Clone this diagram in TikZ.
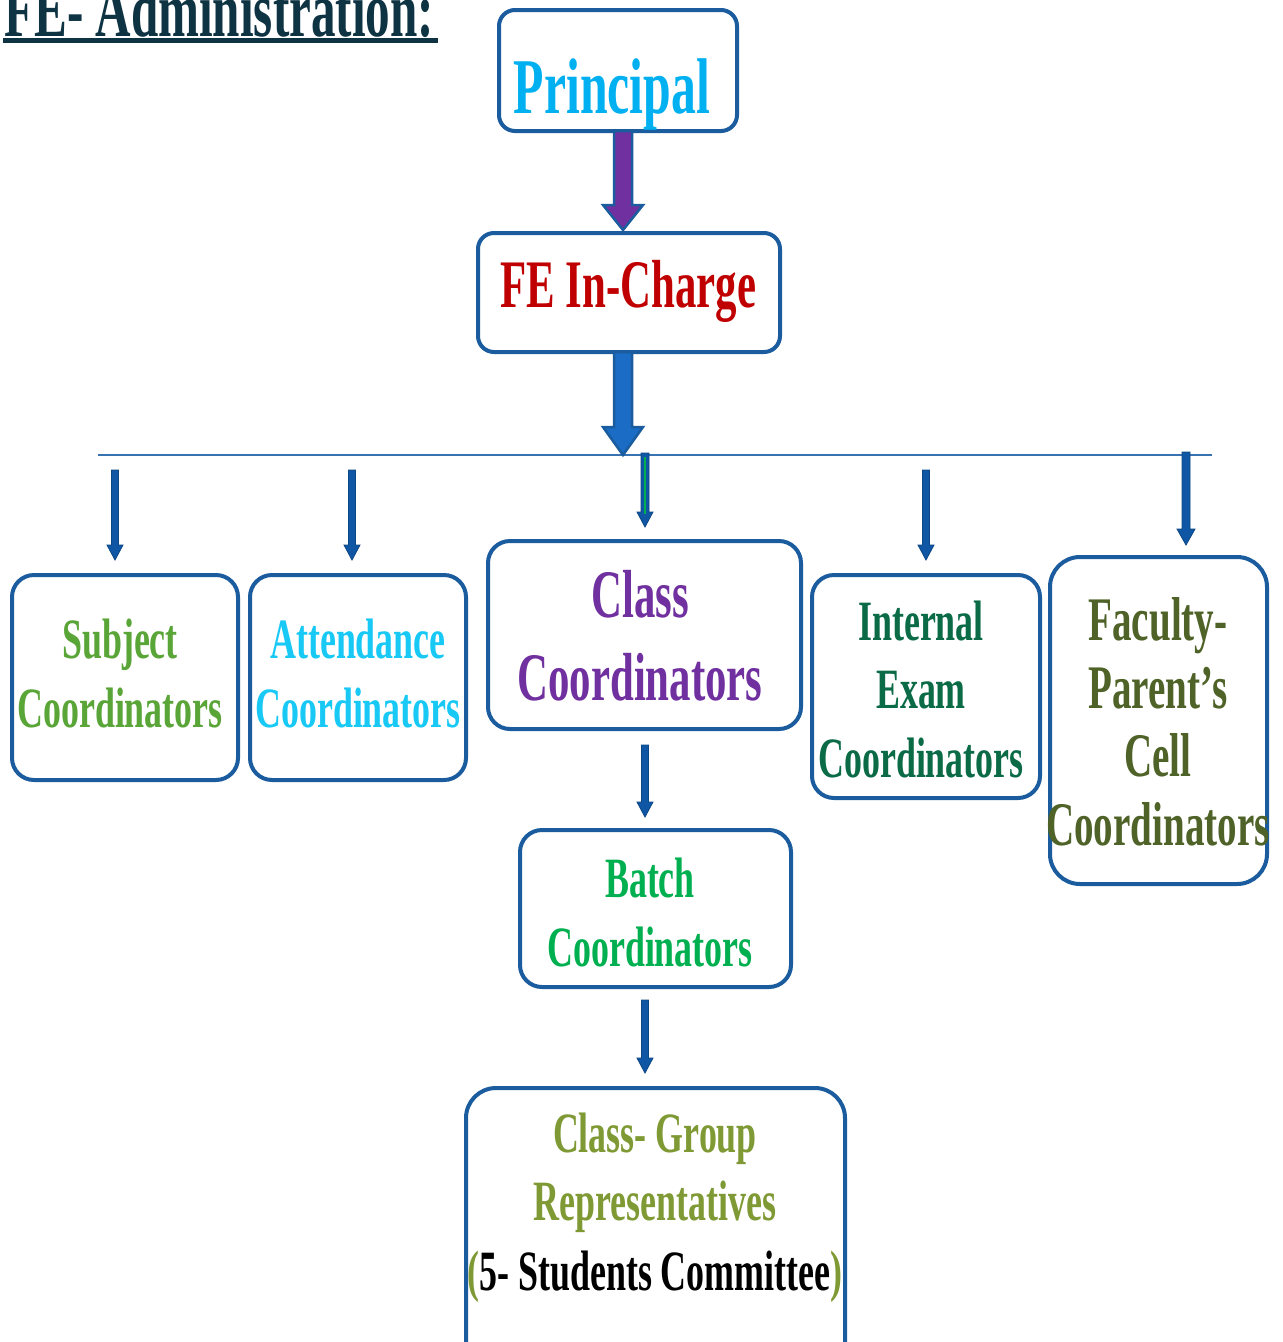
\documentclass[tikz,border=0pt]{standalone}
\usepackage{fontspec}
\newfontfamily\cf{Liberation Serif}[UprightFont=* Bold, FakeStretch=0.63]
\usetikzlibrary{calc}
\definecolor{boxblue}{HTML}{1B5C9E}
\definecolor{linblue}{HTML}{3872B0}
\definecolor{arrblue}{HTML}{0F57A5}
\definecolor{bigblue}{HTML}{1A6CC4}
\definecolor{arrpurple}{HTML}{7030A0}
\definecolor{titlecol}{HTML}{0E3343}
\definecolor{princol}{HTML}{00B0F0}
\definecolor{fecol}{HTML}{C00000}
\definecolor{subjcol}{HTML}{5AA537}
\definecolor{attcol}{HTML}{18C8F5}
\definecolor{clscol}{HTML}{7030A0}
\definecolor{intcol}{HTML}{0B6B47}
\definecolor{faccol}{HTML}{4F6228}
\definecolor{batchcol}{HTML}{00B050}
\definecolor{grpcol}{HTML}{7F9A34}
\definecolor{innergreen}{HTML}{00B050}
\newcommand\fsz[1]{\fontsize{#1}{#1}\selectfont}
% block arrow: start, tip, shaft half width, head half width, head length, style
\newcommand\blockarr[6]{%
  \path[#6] ($(#1)+(-#3,0)$) -- ($(#2)+(-#3,-#5)$) -- ($(#2)+(-#4,-#5)$) -- (#2)
    -- ($(#2)+(#4,-#5)$) -- ($(#2)+(#3,-#5)$) -- ($(#1)+(#3,0)$) -- cycle;}
\begin{document}
\begin{tikzpicture}[x=1pt,y=-1pt,
  box/.style={draw=boxblue, line width=4pt, rounded corners=22pt, fill=white},
  txt/.style={anchor=base, inner sep=0pt, font=\cf},
  smallarr/.style={fill=arrblue, draw=arrblue!80!black, line width=0.8pt},
  bigarr/.style={fill=bigblue, draw=boxblue, line width=2.5pt},
  purparr/.style={fill=arrpurple, draw=boxblue, line width=2.5pt}]
\useasboundingbox (0,0) rectangle (1283,1342);
\fill[white] (0,0) rectangle (1283,1342);

% title
\node[txt, anchor=base west, text=titlecol] (title) at (4,36) {\fsz{78}FE- Administration:};
\fill[titlecol] (3,38) rectangle (438,43);

% boxes
\draw[box, rounded corners=16pt] (499,10) rectangle (737,131);
\node[inner sep=0pt, minimum width=238pt, minimum height=121pt] (principal) at (618,70.5) {};
\draw[box, rounded corners=16pt] (478,233) rectangle (780,352);
\node[inner sep=0pt, minimum width=302pt, minimum height=119pt] (fe) at (629,292.5) {};
\draw[box] (12,575) rectangle (238,780);
\node[inner sep=0pt] (subj) at (125,677.5) {};
\draw[box] (250,575) rectangle (466,780);
\node[inner sep=0pt] (att) at (358,677.5) {};
\draw[box] (488,541) rectangle (801,729);
\node[inner sep=0pt] (cls) at (644.5,635) {};
\draw[box] (812,575) rectangle (1040,798);
\node[inner sep=0pt] (intl) at (926,686.5) {};
\draw[box, rounded corners=30pt] (1050,557) rectangle (1267,884);
\node[inner sep=0pt] (fac) at (1158.5,720.5) {};
\draw[box] (520,830) rectangle (791,987);
\node[inner sep=0pt] (batch) at (655.5,908.5) {};
\draw[box, rounded corners=30pt] (466,1088) rectangle (845,1380);
\node[inner sep=0pt] (grp) at (655.5,1234) {};

% texts
\node[txt, text=princol] (tprin) at (612,113) {\fsz{79}Principal};
\node[txt, text=fecol] (tfe) at (628.5,307) {\fsz{68}FE In-Charge};

\node[txt, text=subjcol] (ts1) at (120,658) {\fsz{57}Subject};
\node[txt, text=subjcol] (ts2) at (120,727) {\fsz{57}Coordinators};

\node[txt, text=attcol] (ta1) at (358,658) {\fsz{57}Attendance};
\node[txt, text=attcol] (ta2) at (358,727) {\fsz{57}Coordinators};

\node[txt, text=clscol] (tc1) at (640,617) {\fsz{68}Class};
\node[txt, text=clscol] (tc2) at (640,700) {\fsz{68}Coordinators};

\node[txt, text=intcol] (ti1) at (921,640) {\fsz{57}Internal};
\node[txt, text=intcol] (ti2) at (921,708) {\fsz{57}Exam};
\node[txt, text=intcol] (ti3) at (921,777) {\fsz{57}Coordinators};

\node[txt, text=faccol] (tf1) at (1158,640) {\fsz{62}Faculty-};
\node[txt, text=faccol] (tf2) at (1158,708) {\fsz{62}Parent’s};
\node[txt, text=faccol] (tf3) at (1158,776) {\fsz{62}Cell};
\node[txt, text=faccol] (tf4) at (1158,845) {\fsz{62}Coordinators};

\node[txt, text=batchcol] (tb1) at (650,897) {\fsz{57}Batch};
\node[txt, text=batchcol] (tb2) at (650,966) {\fsz{57}Coordinators};

\node[txt, text=grpcol] (tg1) at (655,1152) {\fsz{57}Class- Group};
\node[txt, text=grpcol] (tg2) at (655,1220) {\fsz{57}Representatives};
\node[txt, text=black] (tg3) at (655,1290) {\fsz{57}\textcolor{grpcol}{(}5- Students Committee\textcolor{grpcol}{)}};

% horizontal bus line
\coordinate (busl) at (98,455);
\coordinate (busr) at (1212,455);
\draw[linblue, line width=2.5pt] (busl) -- (busr);

% big arrows
\coordinate (a1s) at (principal.south -| 623,0);
\coordinate (a1e) at (623,230);
\blockarr{a1s}{a1e}{9}{20}{25}{purparr}
\coordinate (a2s) at (fe.south -| 623,0);
\coordinate (a2e) at (623,455);
\blockarr{a2s}{a2e}{9}{20}{28}{bigarr}

% small arrows
\coordinate (s1s) at (115,470); \coordinate (s1e) at (115,560);
\blockarr{s1s}{s1e}{3.5}{8}{15}{smallarr}
\coordinate (s2s) at (352,470); \coordinate (s2e) at (352,560);
\blockarr{s2s}{s2e}{3.5}{8}{15}{smallarr}
\coordinate (s3s) at (645,453); \coordinate (s3e) at (645,527);
\blockarr{s3s}{s3e}{4}{8}{15}{smallarr}
\draw[innergreen, line width=2pt] (645,457) -- (645,514);
\coordinate (s4s) at (926,470); \coordinate (s4e) at (926,560);
\blockarr{s4s}{s4e}{3.5}{8}{15}{smallarr}
\coordinate (s5s) at (1186,452); \coordinate (s5e) at (1186,545);
\blockarr{s5s}{s5e}{4}{9}{16}{smallarr}
\coordinate (s6s) at (645,745); \coordinate (s6e) at (645,817);
\blockarr{s6s}{s6e}{3.5}{8}{15}{smallarr}
\coordinate (s7s) at (645,1000); \coordinate (s7e) at (645,1073);
\blockarr{s7s}{s7e}{3.5}{8}{15}{smallarr}
\end{tikzpicture}
\end{document}
